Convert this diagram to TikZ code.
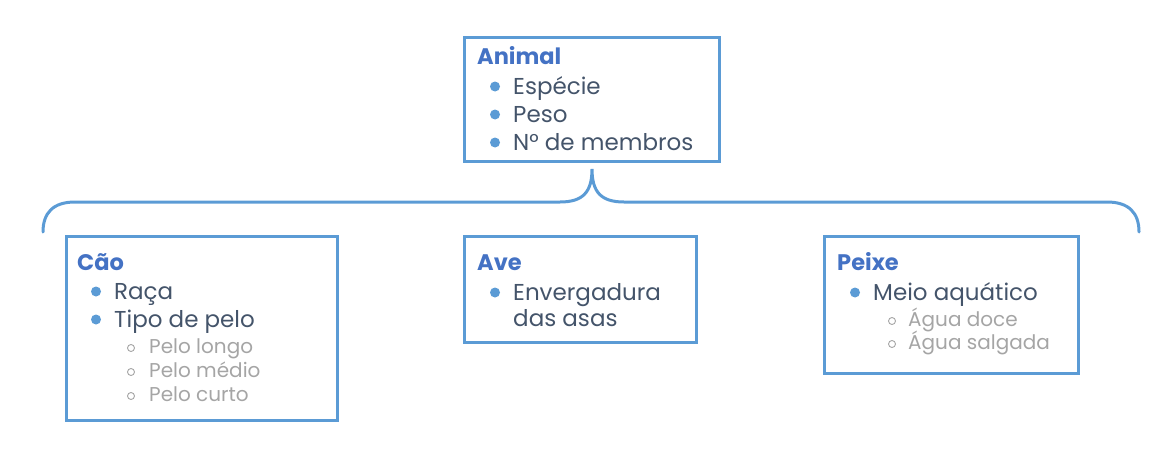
\documentclass[tikz,border=0pt]{standalone}
\usepackage{fontspec}
\setmainfont{Poppins}
\definecolor{boxc}{HTML}{5B9BD5}
\definecolor{titlec}{HTML}{4472C4}
\definecolor{itemc}{HTML}{44546A}
\definecolor{subc}{HTML}{A5A5A5}
\tikzset{
  box/.style={draw=boxc, line width=3pt, rectangle, inner sep=0pt},
  ttl/.style={anchor=base west, inner sep=0pt, text=titlec, font=\fontsize{22.5}{28}\selectfont\bfseries},
  itm/.style={anchor=base west, inner sep=0pt, text=itemc, font=\fontsize{23}{28}\selectfont},
  sub/.style={anchor=base west, inner sep=0pt, text=subc, font=\fontsize{20}{24}\selectfont},
  dot/.style={circle, fill=boxc, inner sep=0pt, minimum size=10pt},
  ring/.style={circle, draw=subc, line width=0.9pt, inner sep=0pt, minimum size=7pt},
  brace/.style={draw=boxc, line width=3pt, line cap=round}
}
\begin{document}
\begin{tikzpicture}[x=1pt,y=-1pt]
\useasboundingbox (0,0) rectangle (1158,460);
% boxes
\node[box, minimum width=255pt, minimum height=123pt] (animal) at (591.5,99.5) {};
\node[box, minimum width=271pt, minimum height=184pt] (cao) at (201.5,328) {};
\node[box, minimum width=232pt, minimum height=106pt] (ave) at (580,289) {};
\node[box, minimum width=254pt, minimum height=137pt] (peixe) at (951,304.5) {};
% brace
\coordinate (bl) at (43,232);
\coordinate (br) at (1139,232);
\coordinate (tip) at (592,169);
\draw[brace] (bl) .. controls (43,213) and (53,202) .. (75,202) -- (560,202)
  .. controls (583,202) and (592,192) .. (tip)
  .. controls (592,192) and (601,202) .. (624,202) -- (1107,202)
  .. controls (1129,202) and (1139,213) .. (br);
% Animal
\node[ttl] (t1) at (477,64) {Animal};
\node[dot] (d11) at (495,86.5) {}; \node[itm] (i11) at (513,94) {Espécie};
\node[dot] (d12) at (495,114.5) {}; \node[itm] (i12) at (513,122) {Peso};
\node[dot] (d13) at (495,142.5) {}; \node[itm] (i13) at (513,150) {N° de membros};
% Cao
\node[ttl] (t2) at (77,270) {Cão};
\node[dot] (d21) at (96,291.5) {}; \node[itm] (i21) at (114,299) {Raça};
\node[dot] (d22) at (96,319.5) {}; \node[itm] (i22) at (114,327) {Tipo de pelo};
\node[ring] (r21) at (131,348) {}; \node[sub] (s21) at (149,353) {Pelo longo};
\node[ring] (r22) at (131,372) {}; \node[sub] (s22) at (149,377) {Pelo médio};
\node[ring] (r23) at (131,396) {}; \node[sub] (s23) at (149,401) {Pelo curto};
% Ave
\node[ttl] (t3) at (477,270) {Ave};
\node[dot] (d31) at (495,292.5) {}; \node[itm] (i31) at (513,300) {Envergadura};
\node[itm] (i32) at (513,326) {das asas};
% Peixe
\node[ttl] (t4) at (837,270) {Peixe};
\node[dot] (d41) at (855,292.5) {}; \node[itm] (i41) at (873,300) {Meio aquático};
\node[ring] (r41) at (892,321) {}; \node[sub] (s41) at (908,326) {Água doce};
\node[ring] (r42) at (892,344) {}; \node[sub] (s42) at (908,349) {Água salgada};
\end{tikzpicture}
\end{document}
